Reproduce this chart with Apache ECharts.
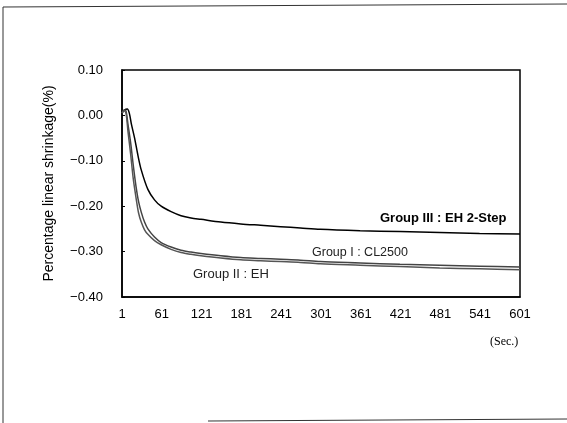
<!DOCTYPE html>
<html>
<head>
<meta charset="utf-8">
<script src="https://cdn.jsdelivr.net/npm/echarts@6/dist/echarts.min.js"></script>
<style>html,body{margin:0;padding:0;background:#fff;}#c{width:567px;height:423px;}</style>
</head>
<body>
<div id="c"></div>
<script>
// Time (sec) and percentage linear shrinkage (%)
var timeIII = [1, 5, 9, 12, 15, 20, 25, 30, 40, 50, 60, 75, 90, 105, 120, 150, 180, 210, 240, 270, 300, 360, 420, 480, 540, 601];
var groupIII = [0.005, 0.012, 0.014, 0.005, -0.018, -0.05, -0.088, -0.12, -0.163, -0.186, -0.2, -0.212, -0.221, -0.226, -0.229, -0.235, -0.239, -0.242, -0.245, -0.248, -0.251, -0.254, -0.256, -0.258, -0.26, -0.261];

var timeI = [1, 4, 7, 10, 14, 18, 22, 26, 30, 35, 40, 50, 60, 75, 90, 105, 120, 150, 180, 210, 240, 270, 300, 360, 420, 480, 540, 601];
var groupI = [0.005, 0.012, 0.01, -0.02, -0.06, -0.11, -0.155, -0.19, -0.213, -0.235, -0.25, -0.268, -0.28, -0.29, -0.297, -0.301, -0.304, -0.309, -0.313, -0.315, -0.317, -0.319, -0.322, -0.325, -0.328, -0.33, -0.332, -0.334];

var timeII = [1, 4, 7, 10, 14, 18, 22, 26, 30, 35, 40, 50, 60, 75, 90, 105, 120, 150, 180, 210, 240, 270, 300, 360, 420, 480, 540, 601];
var groupII = [0.005, 0.01, 0.005, -0.035, -0.085, -0.14, -0.18, -0.215, -0.235, -0.252, -0.262, -0.276, -0.285, -0.295, -0.302, -0.306, -0.309, -0.314, -0.318, -0.32, -0.322, -0.324, -0.327, -0.33, -0.333, -0.336, -0.338, -0.34];

var xTicks = [1, 61, 121, 181, 241, 301, 361, 421, 481, 541, 601];
var yMin = -0.4, yMax = 0.1, yStep = 0.1;

var seriesNames = ['Group III : EH 2-Step', 'Group I : CL2500', 'Group II : EH'];
var yAxisName = 'Percentage linear shrinkage(%)';
var xUnit = '(Sec.)';

function pairs(t, v) { return t.map(function (x, i) { return [x, v[i]]; }); }

var chart = echarts.init(document.getElementById('c'), null, { renderer: 'canvas' });
var font = 'Liberation Sans, Arial, sans-serif';
chart.setOption({
  backgroundColor: '#fff',
  animation: false,
  grid: { left: 122, right: 47, top: 70, bottom: 126, show: true, borderColor: '#000', borderWidth: 1.5, backgroundColor: 'transparent' },
  xAxis: {
    type: 'value', min: 1, max: 601,
    axisLine: { show: true, onZero: false, lineStyle: { color: '#000', width: 1.5 } },
    axisTick: { show: false },
    splitLine: { show: false },
    axisLabel: { customValues: xTicks, color: '#000', fontSize: 13, fontFamily: font, margin: 11 }
  },
  yAxis: {
    type: 'value', min: yMin, max: yMax, interval: yStep,
    name: yAxisName, nameLocation: 'middle', nameGap: 66, nameRotate: 90,
    nameTextStyle: { color: '#000', fontSize: 14, fontFamily: font },
    axisLine: { show: true, onZero: false, lineStyle: { color: '#000', width: 1.5 } },
    axisTick: { show: true, inside: true, length: 3, lineStyle: { color: '#000' } },
    splitLine: { show: false },
    axisLabel: {
      color: '#000', fontSize: 13, fontFamily: font, margin: 19,
      formatter: function (v) { return v < 0 ? '\u2212' + Math.abs(v).toFixed(2) : v.toFixed(2); }
    }
  },
  series: [
    { name: seriesNames[0], type: 'line', data: pairs(timeIII, groupIII), showSymbol: false, smooth: 0.3, lineStyle: { color: '#000', width: 1.5 } },
    { name: seriesNames[1], type: 'line', data: pairs(timeI, groupI), showSymbol: false, smooth: 0.3, lineStyle: { color: '#444', width: 1.5 } },
    { name: seriesNames[2], type: 'line', data: pairs(timeII, groupII), showSymbol: false, smooth: 0.3, lineStyle: { color: '#555', width: 1.5 } }
  ],
  graphic: [
    { type: 'text', left: 380, top: 212, style: { text: seriesNames[0], fill: '#000', font: 'bold 13px ' + font } },
    { type: 'text', left: 312, top: 246, style: { text: seriesNames[1], fill: '#222', font: '12.5px ' + font } },
    { type: 'text', left: 193, top: 268, style: { text: seriesNames[2], fill: '#222', font: '13px ' + font } },
    { type: 'text', left: 490, top: 336, style: { text: xUnit, fill: '#000', font: '12px Liberation Serif, serif' } },
    { type: 'line', shape: { x1: 3, y1: 7, x2: 567, y2: 4 }, style: { stroke: '#333', lineWidth: 1 } },
    { type: 'line', shape: { x1: 3, y1: 7, x2: 3, y2: 423 }, style: { stroke: '#333', lineWidth: 1 } },
    { type: 'line', shape: { x1: 208, y1: 421, x2: 567, y2: 419 }, style: { stroke: '#333', lineWidth: 1 } }
  ]
});
</script>
</body>
</html>
